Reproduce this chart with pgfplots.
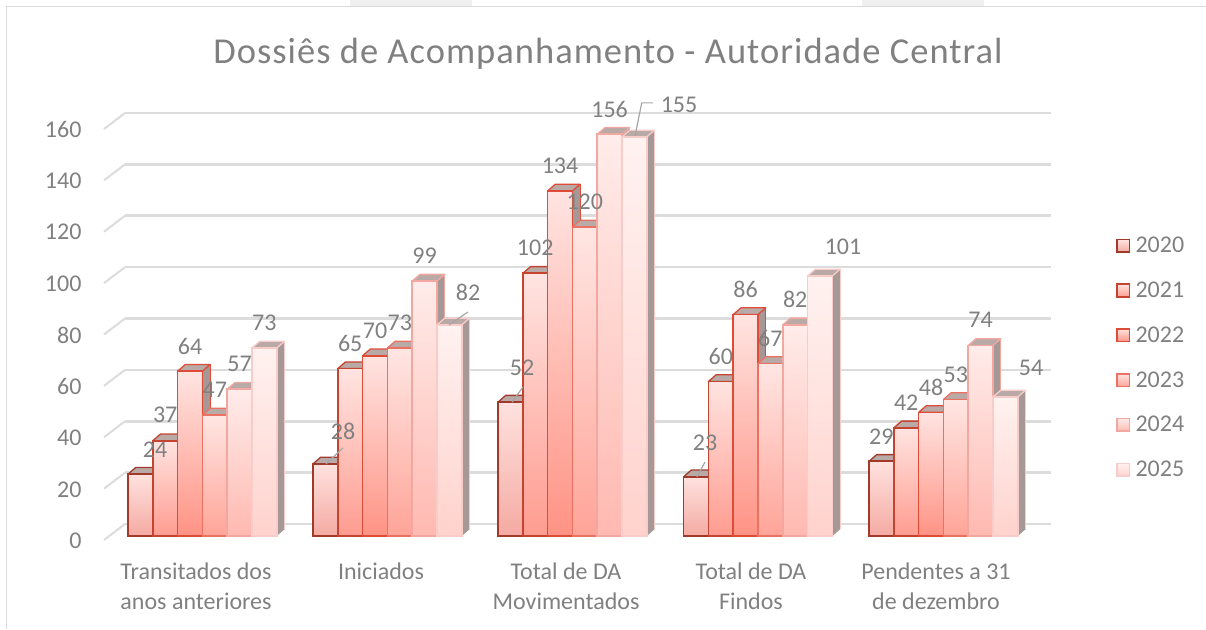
\documentclass[border=0pt]{standalone}
\usepackage{pgfplots}
\usepackage{fontspec}
\pgfplotsset{compat=1.18}
\setmainfont{Carlito}
\newfontfamily\titlefont[LetterSpace=2.8]{Carlito}
\definecolor{txt}{HTML}{808080}
\definecolor{gridc}{HTML}{DCDCDC}
\definecolor{wallc}{HTML}{A59896}
\definecolor{topc}{HTML}{B9A9A7}
\definecolor{eA}{HTML}{A23A2C}\definecolor{bA}{HTML}{F4AAA2}\definecolor{tA}{HTML}{FFE2DF}
\definecolor{eB}{HTML}{C4442F}\definecolor{bB}{HTML}{FF9C90}\definecolor{tB}{HTML}{FFE4E1}
\definecolor{eC}{HTML}{DE4C38}\definecolor{bC}{HTML}{FF9385}\definecolor{tC}{HTML}{FFE4E1}
\definecolor{eD}{HTML}{EB7263}\definecolor{bD}{HTML}{FFA498}\definecolor{tD}{HTML}{FFE6E3}
\definecolor{eE}{HTML}{F2A8A0}\definecolor{bE}{HTML}{FFB9B1}\definecolor{tE}{HTML}{FFECEA}
\definecolor{eF}{HTML}{F8CCC8}\definecolor{bF}{HTML}{FFD2CD}\definecolor{tF}{HTML}{FFF2F0}

% one bar: x (pixel position), value, edge, bottom and top colour
\newcommand\onebar[3]{%
  \pgfmathsetmacro\xl{#1-12.4}\pgfmathsetmacro\xr{#1+12.4}%
  \pgfmathsetmacro\xld{\xl+7.7}\pgfmathsetmacro\xrd{\xr+7.7}%
  \pgfmathsetmacro\bd{6.7/2.575}\pgfmathsetmacro\vd{#2+6.7/2.575}%
  \edef\temp{%
    \noexpand\addplot[fill=wallc,draw=none,forget plot] coordinates {(\xr,0)(\xrd,\bd)(\xrd,\vd)(\xr,#2)} --cycle;
    \noexpand\addplot[fill=topc,draw=e#3,line width=1.3pt,line join=round,forget plot] coordinates {(\xl,#2)(\xld,\vd)(\xrd,\vd)(\xr,#2)} --cycle;
    \noexpand\addplot[draw=e#3,line width=0.8pt,forget plot] coordinates {(\xrd,\vd)(\xrd,\bd)};
    \noexpand\addplot[ybar,bar width=24.8pt,bar shift=0pt,draw=e#3,line width=1.7pt,top color=t#3,bottom color=b#3,forget plot] coordinates {(#1,#2)};
  }\temp
}
\newcommand\lab[4]{\node[anchor=center,inner sep=0pt,text=txt,font=\fontsize{24}{26}\selectfont,xshift=#3pt,yshift=#4pt] at (axis cs:#1,#2) {#2};}
\newcommand\legitem[4]{%
\addlegendimage{legend image code/.code={\path[draw=none,fill=none] (0pt,0pt)--(18.6pt,0pt);\draw[#1,line width=1.6pt,top color=#3,bottom color=#2] (0pt,-6.3pt) rectangle (12.6pt,6.3pt);}}
\addlegendentry{#4}
}
\pgfdeclareplotmark{diag}{\pgfpathmoveto{\pgfpoint{0pt}{0pt}}\pgfpathlineto{\pgfpoint{-21pt}{-16pt}}\pgfusepathqstroke}

\begin{document}
\begin{tikzpicture}[x=1pt,y=1pt]
\path[use as bounding box] (0,0) rectangle (1206,629);
% frame
\fill[gray!12] (350,623) rectangle (472,629);
\fill[gray!12] (862,623) rectangle (984,629);
\draw[gridc,line width=1pt] (6,0)--(6,622.5)--(1206,622.5);
\node[text=txt,font=\titlefont\fontsize{36.5}{40}\selectfont,anchor=center] at (608,575.5) {Dossiês de Acompanhamento - Autoridade Central};

% back wall with its gridlines
\begin{axis}[
  at={(125pt,105pt)}, anchor=south west, scale only axis, width=926pt, height=411pt,
  xmin=0, xmax=1, ymin=0, ymax=160, clip=false,
  xtick=\empty, ytick={0,20,...,160}, yticklabels={}, major tick length=0pt,
  ymajorgrids, major grid style={line width=2.6pt,gridc}, axis line style={draw=none},
]
\addplot[only marks, mark=diag, mark options={draw=gridc,line width=2pt}] coordinates {(0,0)(0,20)(0,40)(0,60)(0,80)(0,100)(0,120)(0,140)(0,160)};
\end{axis}

% bars in the front plane: x in pixels of the picture, y in chart values
\begin{axis}[
  at={(90pt,84pt)}, anchor=south west, scale only axis, width=970pt, height=485pt,
  xmin=90, xmax=1060, ymin=-3.495, ymax=184.854, clip=false,
  axis line style={draw=none}, major tick length=0pt,
  ytick={0,20,...,160},
  yticklabel style={text=txt,font=\fontsize{24}{26}\selectfont,yshift=-5pt,xshift=-5pt},
  /pgf/number format/assume math mode=true,
  xtick={196,381,566,751,936},
  xticklabels={{Transitados dos\\anos anteriores},{Iniciados},{Total de DA\\Movimentados},{Total de DA\\Findos},{Pendentes a 31\\de dezembro}},
  xticklabel style={text=txt,align=center,font=\fontsize{24}{30}\selectfont,anchor=north,yshift=-14pt},
  legend style={at={(1.0577,0.635)},anchor=north west,draw=none,fill=none,text=txt,row sep=27.7pt,inner sep=0pt,
    nodes={inner sep=0pt,anchor=west,font=\fontsize{24}{26}\selectfont}},
  legend cell align=left,
]
\legitem{eA}{bA}{tA}{2020}
\legitem{eB}{bB}{tB}{2021}
\legitem{eC}{bC}{tC}{2022}
\legitem{eD}{bD}{tD}{2023}
\legitem{eE}{bE}{tE}{2024}
\legitem{eF}{bF}{tF}{2025}
% Transitados dos anos anteriores
\onebar{140.4}{24}{A}\onebar{165.2}{37}{B}\onebar{190.0}{64}{C}\onebar{214.8}{47}{D}\onebar{239.6}{57}{E}\onebar{264.4}{73}{F}
% Iniciados
\onebar{325.4}{28}{A}\onebar{350.2}{65}{B}\onebar{375.0}{70}{C}\onebar{399.8}{73}{D}\onebar{424.6}{99}{E}\onebar{449.4}{82}{F}
% Total de DA Movimentados
\onebar{510.4}{52}{A}\onebar{535.2}{102}{B}\onebar{560.0}{134}{C}\onebar{584.8}{120}{D}\onebar{609.6}{156}{E}\onebar{634.4}{155}{F}
% Total de DA Findos
\onebar{696.0}{23}{A}\onebar{720.8}{60}{B}\onebar{745.6}{86}{C}\onebar{770.4}{67}{D}\onebar{795.2}{82}{E}\onebar{820.0}{101}{F}
% Pendentes a 31 de dezembro
\onebar{881.4}{29}{A}\onebar{906.2}{42}{B}\onebar{931.0}{48}{C}\onebar{955.8}{53}{D}\onebar{980.6}{74}{E}\onebar{1005.4}{54}{F}
% leader lines
\addplot[color=black!35,line width=1.2pt,forget plot] coordinates {(326,28)(343,34.2)};
\addplot[color=black!35,line width=1.2pt,forget plot] coordinates {(449,82)(468,87)};
\addplot[color=black!35,line width=1.2pt,forget plot] coordinates {(512,52)(523,57.9)};
\addplot[color=black!35,line width=1.2pt,forget plot] coordinates {(697,23)(705,28.7)};
\addplot[color=black!35,line width=1.2pt,forget plot] coordinates {(635,155.3)(641.7,168.2)(653,168.2)};
% data labels
\lab{140.4}{24}{14.6}{24}\lab{165.2}{37}{0}{25.7}\lab{190.0}{64}{0}{25}\lab{214.8}{47}{0}{25}\lab{239.6}{57}{0}{25}\lab{264.4}{73}{0}{25}
\lab{325.4}{28}{17.6}{33}\lab{350.2}{65}{0}{25.6}\lab{375.0}{70}{0}{25}\lab{399.8}{73}{0}{25}\lab{424.6}{99}{0}{25.5}\lab{449.4}{82}{18.6}{32}
\lab{510.4}{52}{11.6}{34}\lab{535.2}{102}{0}{26}\lab{560.0}{134}{0}{25.5}\lab{584.8}{120}{0}{25}\lab{609.6}{156}{0}{25.3}\lab{634.4}{155}{44.6}{32}
\lab{696.0}{23}{9}{34}\lab{720.8}{60}{0}{25.5}\lab{745.6}{86}{0}{25.5}\lab{770.4}{67}{0}{25}\lab{795.2}{82}{0}{25}\lab{820.0}{101}{23}{29}
\lab{881.4}{29}{0}{25}\lab{906.2}{42}{0}{25}\lab{931.0}{48}{0}{25}\lab{955.8}{53}{0}{25}\lab{980.6}{74}{0}{25.5}\lab{1005.4}{54}{25.6}{29}
\end{axis}
\end{tikzpicture}
\end{document}
